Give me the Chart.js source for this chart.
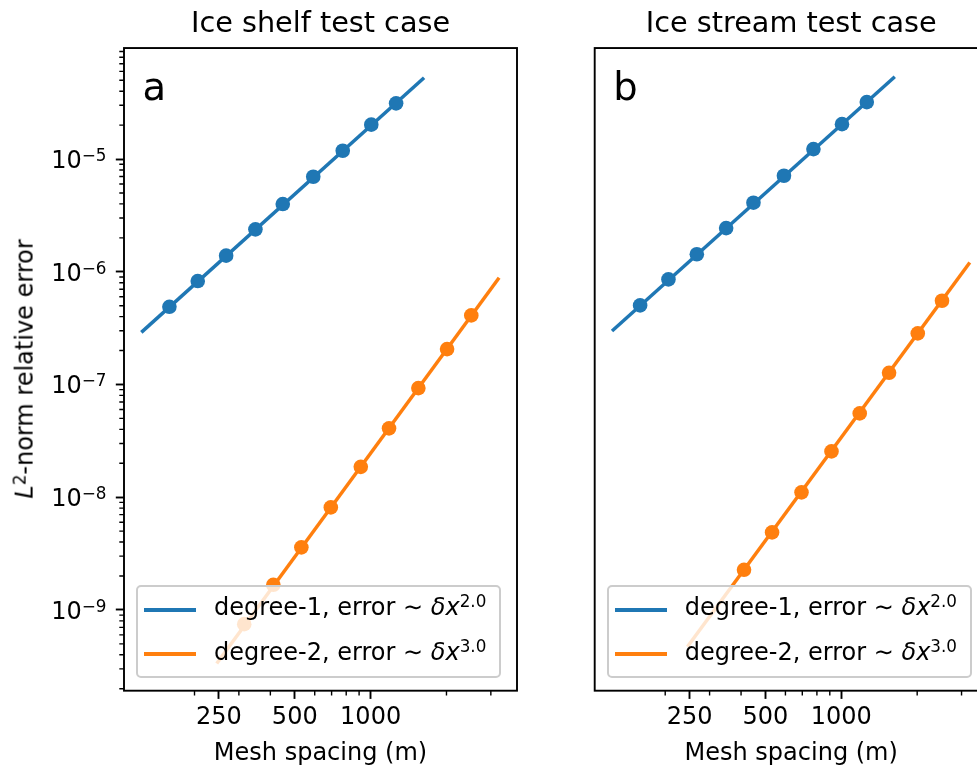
<!DOCTYPE html>
<html>
<head>
<meta charset="utf-8">
<script src="https://cdn.jsdelivr.net/npm/chart.js@4.4.1/dist/chart.umd.min.js"></script>
<style>
  body { margin: 0; width: 977px; height: 765px; overflow: hidden; background: #fff; position: relative; font-family: "DejaVu Sans", sans-serif; color: #000; }
  canvas { position: absolute; top: 0; }
  #shelfChart { left: 0; }
  #streamChart { left: 520px; }
  .ylabel { position: absolute; left: 25px; top: 369px; transform: translate(-50%, -50%) rotate(-90deg); font-size: 24px; line-height: 28.8px; white-space: nowrap; }
  .legend { position: absolute; top: 585px; width: 365px; height: 93px; box-sizing: border-box; border: 2px solid #cccccc; border-radius: 5px; background: rgba(255, 255, 255, 0.8); }
  .legend .swatch { position: absolute; left: 6px; width: 52px; height: 3.5px; }
  .legend .text { position: absolute; left: 76px; font-size: 24px; line-height: 24px; white-space: nowrap; }
  sup { font-size: 16.8px; position: relative; top: -7.4px; vertical-align: baseline; line-height: 0; }
</style>
</head>
<body>
<canvas id="shelfChart" width="560" height="780"></canvas>
<canvas id="streamChart" width="560" height="780"></canvas>

<div class="ylabel"><i>L</i><sup>2</sup>-norm relative error</div>

<div class="legend" style="left:136px">
  <div class="swatch" style="top:21.25px;background:#1f77b4"></div>
  <div class="text" style="top:7.7px">degree-1, error ∼ <i>δx</i><sup>2.0</sup></div>
  <div class="swatch" style="top:65.25px;background:#ff7f0e"></div>
  <div class="text" style="top:52.7px">degree-2, error ∼ <i>δx</i><sup>3.0</sup></div>
</div>
<div class="legend" style="left:606.7px">
  <div class="swatch" style="top:21.25px;background:#1f77b4"></div>
  <div class="text" style="top:7.7px">degree-1, error ∼ <i>δx</i><sup>2.0</sup></div>
  <div class="swatch" style="top:65.25px;background:#ff7f0e"></div>
  <div class="text" style="top:52.7px">degree-2, error ∼ <i>δx</i><sup>3.0</sup></div>
</div>

<script>
// mesh spacing (m)
const meshDeg1 = [159, 206, 267, 349, 448, 592, 775, 1006, 1262];
const meshDeg2 = [315, 411, 531, 695, 914, 1183, 1547, 2011, 2509];
const streamMeshDeg2 = [411, 531, 695, 914, 1183, 1547, 2011, 2509];

// relative errors
const shelfErrDeg1 = [4.89e-7, 8.27e-7, 1.39e-6, 2.38e-6, 3.99e-6, 6.97e-6, 1.185e-5, 2.02e-5, 3.12e-5];
const shelfErrDeg2 = [7.48e-10, 1.67e-9, 3.59e-9, 8.12e-9, 1.86e-8, 4.08e-8, 9.29e-8, 2.06e-7, 4.1e-7];
const streamErrDeg1 = [5.03e-7, 8.56e-7, 1.43e-6, 2.44e-6, 4.1e-6, 7.11e-6, 1.226e-5, 2.04e-5, 3.2e-5];
const streamErrDeg2 = [2.27e-9, 4.87e-9, 1.104e-8, 2.55e-8, 5.54e-8, 1.27e-7, 2.84e-7, 5.53e-7];

// fitted power-law lines (end points)
const fitMeshDeg1 = [123, 1630];
const fitMeshDeg2 = [245, 3235];
const shelfFitDeg1 = [2.9e-7, 5.26e-5];
const shelfFitDeg2 = [3.35e-10, 8.85e-7];
const streamFitDeg1 = [2.98e-7, 5.37e-5];
const streamFitDeg2 = [4.71e-10, 1.21e-6];

// axes
const xMin = 105, xMax = 3810;
const yMin = 1.92e-10, yMax = 9.66e-5;
const xMajorTicks = [250, 500, 1000];
const xMinorTicks = [200, 300, 400, 600, 700, 800, 900, 2000, 3000];
const yMajorTicks = [1e-9, 1e-8, 1e-7, 1e-6, 1e-5];
const yTickExponents = ["\u22129", "\u22128", "\u22127", "\u22126", "\u22125"];
const yMinorDecades = [1e-10, 1e-9, 1e-8, 1e-7, 1e-6, 1e-5];
const yMinorSteps = [2, 3, 4, 5, 6, 7, 8, 9];

const BLUE = "#1f77b4";
const ORANGE = "#ff7f0e";
const FONT = '"DejaVu Sans"';

Chart.defaults.font.family = FONT;
Chart.defaults.color = "#000";

const xTicks = xMajorTicks.map(v => ({ value: v, major: true }))
    .concat(xMinorTicks.map(v => ({ value: v, major: false })))
    .sort((a, b) => a.value - b.value);

let yMinor = [];
yMinorDecades.forEach(d => yMinorSteps.forEach(s => yMinor.push(d * s)));
const yTicks = yMajorTicks.map(v => ({ value: v, major: true }))
    .concat(yMinor.filter(v => v > yMin && v < yMax).map(v => ({ value: v, major: false })))
    .sort((a, b) => a.value - b.value);

const toPoints = (xs, ys) => xs.map((x, i) => ({ x: x, y: ys[i] }));

const markers = (pts, color) => ({
    data: pts,
    showLine: false,
    pointRadius: 7.3,
    pointHoverRadius: 7.3,
    pointBorderWidth: 0,
    pointBackgroundColor: color,
    backgroundColor: color,
});

const fitLine = (pts, color) => ({
    data: pts,
    showLine: true,
    pointRadius: 0,
    pointHoverRadius: 0,
    borderColor: color,
    borderWidth: 3.5,
    fill: false,
});

// minor ticks, 10^n labels, box frame and panel letter
const panelFrame = {
    id: "panelFrame",
    afterDraw(chart, args, opts) {
        const { ctx, chartArea: a, scales } = chart;
        ctx.save();
        ctx.strokeStyle = "#000";
        ctx.lineWidth = 1.4;
        ctx.beginPath();
        scales.x.ticks.forEach(t => {
            if (t.major) return;
            const px = scales.x.getPixelForValue(t.value);
            ctx.moveTo(px, a.bottom);
            ctx.lineTo(px, a.bottom + 4.7);
        });
        if (opts.yTicks) {
            scales.y.ticks.forEach(t => {
                if (t.major) return;
                const py = scales.y.getPixelForValue(t.value);
                ctx.moveTo(a.left, py);
                ctx.lineTo(a.left - 4.7, py);
            });
        }
        ctx.stroke();

        if (opts.yTicks) {
            ctx.fillStyle = "#000";
            ctx.textAlign = "right";
            ctx.textBaseline = "alphabetic";
            const right = a.left - 17.5;
            yMajorTicks.forEach((v, i) => {
                const base = scales.y.getPixelForValue(v) + 8.75;
                ctx.font = "16.8px " + FONT;
                const supW = ctx.measureText(yTickExponents[i]).width;
                ctx.fillText(yTickExponents[i], right, base - 7);
                ctx.font = "24px " + FONT;
                ctx.fillText("10", right - supW, base);
            });
        }

        ctx.lineWidth = 1.9;
        ctx.strokeRect(a.left, a.top, a.right - a.left, a.bottom - a.top);
        ctx.fillStyle = "#000";
        ctx.font = "38.5px " + FONT;
        ctx.textBaseline = "alphabetic";
        ctx.textAlign = "left";
        ctx.fillText(opts.letter, a.left + 18.6, a.top + 52);
        ctx.restore();
    }
};

const tickGrid = {
    drawOnChartArea: false,
    drawTicks: true,
    tickLength: 8.2,
    tickWidth: 1.9,
    tickColor: c => (c.tick && c.tick.major) ? "#000" : "rgba(0,0,0,0)",
};

const makePanel = (id, title, letter, datasets, showY) => new Chart(document.getElementById(id), {
    type: "scatter",
    data: { datasets: datasets },
    options: {
        responsive: false,
        animation: false,
        events: [],
        layout: {
            padding: showY
                ? { left: 0, top: 0, right: 43, bottom: 11.7 }
                : { left: 74.7, top: 0, right: 92.3, bottom: 11.7 }
        },
        plugins: {
            legend: { display: false },
            tooltip: { enabled: false },
            title: {
                display: true,
                text: title,
                fullSize: false,
                color: "#000",
                font: { family: FONT, size: 28.7, weight: "normal", lineHeight: 1.2 },
                padding: { top: 7.6, bottom: 6.0 },
            },
            panelFrame: { letter: letter, yTicks: showY },
        },
        scales: {
            x: {
                type: "logarithmic",
                position: "bottom",
                min: xMin,
                max: xMax,
                afterBuildTicks: s => { s.ticks = xTicks.map(t => ({ ...t })); },
                afterFit: s => { s.height = 77.6; },
                border: { display: false },
                grid: tickGrid,
                ticks: {
                    autoSkip: false,
                    maxRotation: 0,
                    minRotation: 0,
                    padding: 4.6,
                    color: "#000",
                    font: { family: FONT, size: 24 },
                    callback: v => xMajorTicks.includes(v) ? String(v) : "",
                },
                title: {
                    display: true,
                    text: "Mesh spacing (m)",
                    color: "#000",
                    font: { family: FONT, size: 24, lineHeight: 1.2 },
                    padding: { top: 0, bottom: 0 },
                },
            },
            y: {
                type: "logarithmic",
                position: "left",
                display: showY,
                min: yMin,
                max: yMax,
                afterBuildTicks: s => { s.ticks = yTicks.map(t => ({ ...t })); },
                afterFit: s => { s.width = showY ? 124 : 0; },
                border: { display: false },
                grid: tickGrid,
                ticks: {
                    autoSkip: false,
                    padding: 8,
                    font: { family: FONT, size: 24 },
                    callback: () => "",
                },
            },
        },
    },
    plugins: [panelFrame],
});

makePanel("shelfChart", "Ice shelf test case", "a", [
    markers(toPoints(meshDeg1, shelfErrDeg1), BLUE),
    fitLine(toPoints(fitMeshDeg1, shelfFitDeg1), BLUE),
    markers(toPoints(meshDeg2, shelfErrDeg2), ORANGE),
    fitLine(toPoints(fitMeshDeg2, shelfFitDeg2), ORANGE),
], true);

makePanel("streamChart", "Ice stream test case", "b", [
    markers(toPoints(meshDeg1, streamErrDeg1), BLUE),
    fitLine(toPoints(fitMeshDeg1, streamFitDeg1), BLUE),
    markers(toPoints(streamMeshDeg2, streamErrDeg2), ORANGE),
    fitLine(toPoints(fitMeshDeg2, streamFitDeg2), ORANGE),
], false);
</script>
</body>
</html>
